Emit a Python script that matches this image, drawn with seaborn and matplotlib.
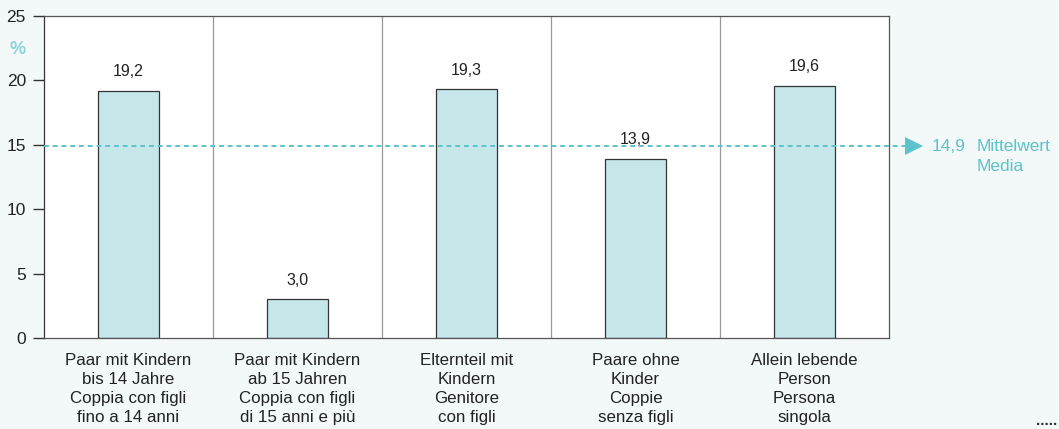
import pandas as pd
import seaborn as sns
from matplotlib import pyplot as plt

kategorien = [
    "Paar mit Kindern\nbis 14 Jahre\nCoppia con figli\nfino a 14 anni",
    "Paar mit Kindern\nab 15 Jahren\nCoppia con figli\ndi 15 anni e più",
    "Elternteil mit\nKindern\nGenitore\ncon figli",
    "Paare ohne\nKinder\nCoppie\nsenza figli",
    "Allein lebende\nPerson\nPersona\nsingola",
]
werte = [19.2, 3.0, 19.3, 13.9, 19.6]
mittelwert = 14.9
etiketten = ["19,2", "3,0", "19,3", "13,9", "19,6"]

df = pd.DataFrame({"kat": kategorien, "wert": werte})

bg = "#f3f9f9"
cyan = "#5cc3cb"

sns.set_style("white")
plt.rcParams["font.family"] = ["Liberation Sans", "DejaVu Sans"]

fig = plt.figure(figsize=(10.59, 4.29), dpi=100, facecolor=bg)
ax = fig.add_axes([44 / 1059, 1 - 338 / 429, 845 / 1059, 322 / 429])
ax.set_facecolor("white")

sns.barplot(data=df, x="kat", y="wert", color="#c5e7ea", edgecolor="#333333",
            linewidth=0.9, width=0.36, saturation=1, ax=ax)

for i, (w, t) in enumerate(zip(werte, etiketten)):
    ax.text(i, w + 0.9, t, ha="center", va="bottom", fontsize=11.5, color="#222222")

for x in [0.5, 1.5, 2.5, 3.5]:
    ax.axvline(x, color="#999999", linewidth=0.9, zorder=0)

ax.set_xlim(-0.5, 4.5)
ax.set_ylim(0, 25)
ax.set_yticks([0, 5, 10, 15, 20, 25])
ax.tick_params(axis="y", left=True, direction="out", length=8, width=1, color="#333333",
               labelsize=12.5, labelcolor="#222222", pad=5)
ax.tick_params(axis="x", bottom=False, length=0, labelsize=12.2, labelcolor="#222222", pad=11)
for lbl in ax.get_xticklabels():
    lbl.set_linespacing(1.32)
for s in ax.spines.values():
    s.set_color("#555555")
    s.set_linewidth(0.9)
ax.spines["left"].set_color("#333333")
ax.set_xlabel("")
ax.set_ylabel("")

# Mittelwert-Linie mit Pfeil
ax.plot([-0.5, 4.6], [mittelwert, mittelwert], color=cyan, linestyle=(0, (2.5, 2)),
        linewidth=1.4, clip_on=False, zorder=3)
ax.plot([4.645], [mittelwert], marker=">", markersize=13, color=cyan, clip_on=False,
        markeredgewidth=0)
ax.text(4.75, mittelwert, "14,9", color=cyan, fontsize=12.5,
        ha="left", va="center")
ax.text(5.02, mittelwert, "Mittelwert", color=cyan, fontsize=12.5,
        ha="left", va="center")
ax.text(5.02, mittelwert - 1.55, "Media", color=cyan, fontsize=12.5,
        ha="left", va="center")

fig.text(10 / 1059, 1 - 50 / 429, "%", color="#8fd3da", fontsize=13,
         fontweight="bold", va="center")
fig.text(1057 / 1059, 1 - 428 / 429, ".....", color="#333333", fontsize=11,
         fontweight="bold", ha="right", va="bottom")

fig.savefig("out.png", dpi=100, facecolor=bg)
